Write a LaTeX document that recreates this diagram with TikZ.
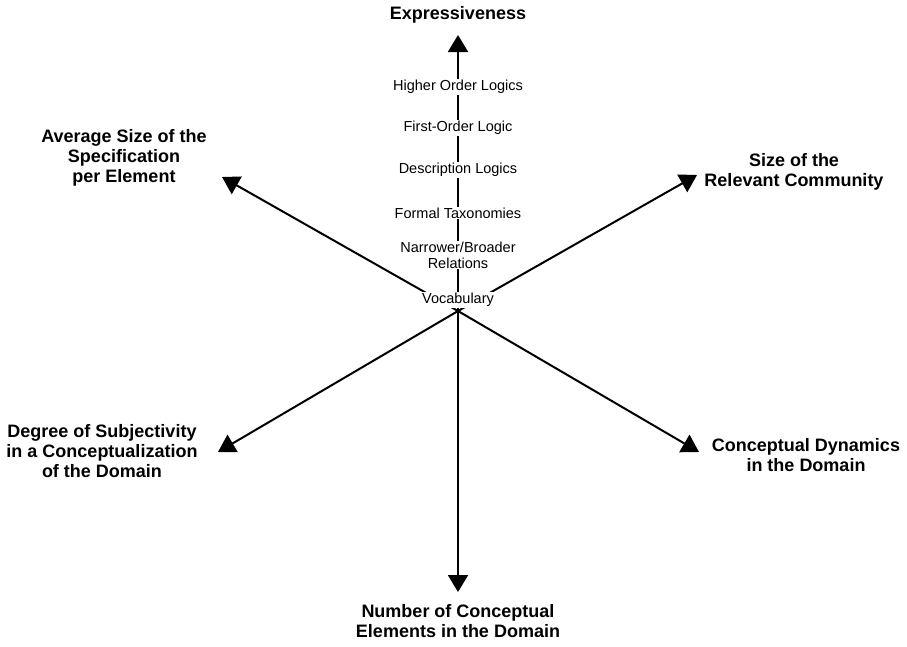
\documentclass[tikz,border=0pt]{standalone}
\usepackage{fontspec}
\setmainfont{Liberation Sans}
\usetikzlibrary{arrows.meta}

\begin{document}
\begin{tikzpicture}[x=1pt,y=-1pt,>={Triangle[width=20pt,length=17pt]},line width=2pt,
    dim/.style={font=\fontsize{18}{20}\selectfont\bfseries,align=center,inner sep=1pt},
    level/.style={font=\fontsize{14.5}{16}\selectfont,align=center,fill=white,inner sep=1pt}]
    \useasboundingbox (0,0) rectangle (907,646);

    \coordinate (o) at (458,311);
    \coordinate (up) at (458,35);
    \coordinate (down) at (458,592);
    \coordinate (ul) at (222,177);
    \coordinate (ur) at (697,175);
    \coordinate (ll) at (218,452);
    \coordinate (lr) at (699,452);

    \draw[->] (o)--(up);
    \draw[->] (o)--(down);
    \draw[->] (o)--(ul);
    \draw[->] (o)--(ur);
    \draw[->] (o)--(ll);
    \draw[->] (o)--(lr);

    \node[level] (voc) at (458,300) {Vocabulary};
    \node[level] (nbr) at (458,255) {Narrower/Broader\\Relations};
    \node[level] (tax) at (458,213) {Formal Taxonomies};
    \node[level] (dl) at (458,170) {Description Logics};
    \node[level] (fol) at (458,128) {First-Order Logic};
    \node[level] (hol) at (458,87) {Higher Order Logics};

    \node[dim] (expr) at (458,15) {Expressiveness};
    \node[dim] (size) at (124,158) {Average Size of the\\Specification\\per Element};
    \node[dim] (comm) at (794,172) {Size of the\\Relevant Community};
    \node[dim] (subj) at (102,451) {Degree of Subjectivity\\in a Conceptualization\\of the Domain};
    \node[dim] (dyn) at (806,455) {Conceptual Dynamics\\in the Domain};
    \node[dim] (num) at (458,621) {Number of Conceptual\\Elements in the Domain};
\end{tikzpicture}
\end{document}
